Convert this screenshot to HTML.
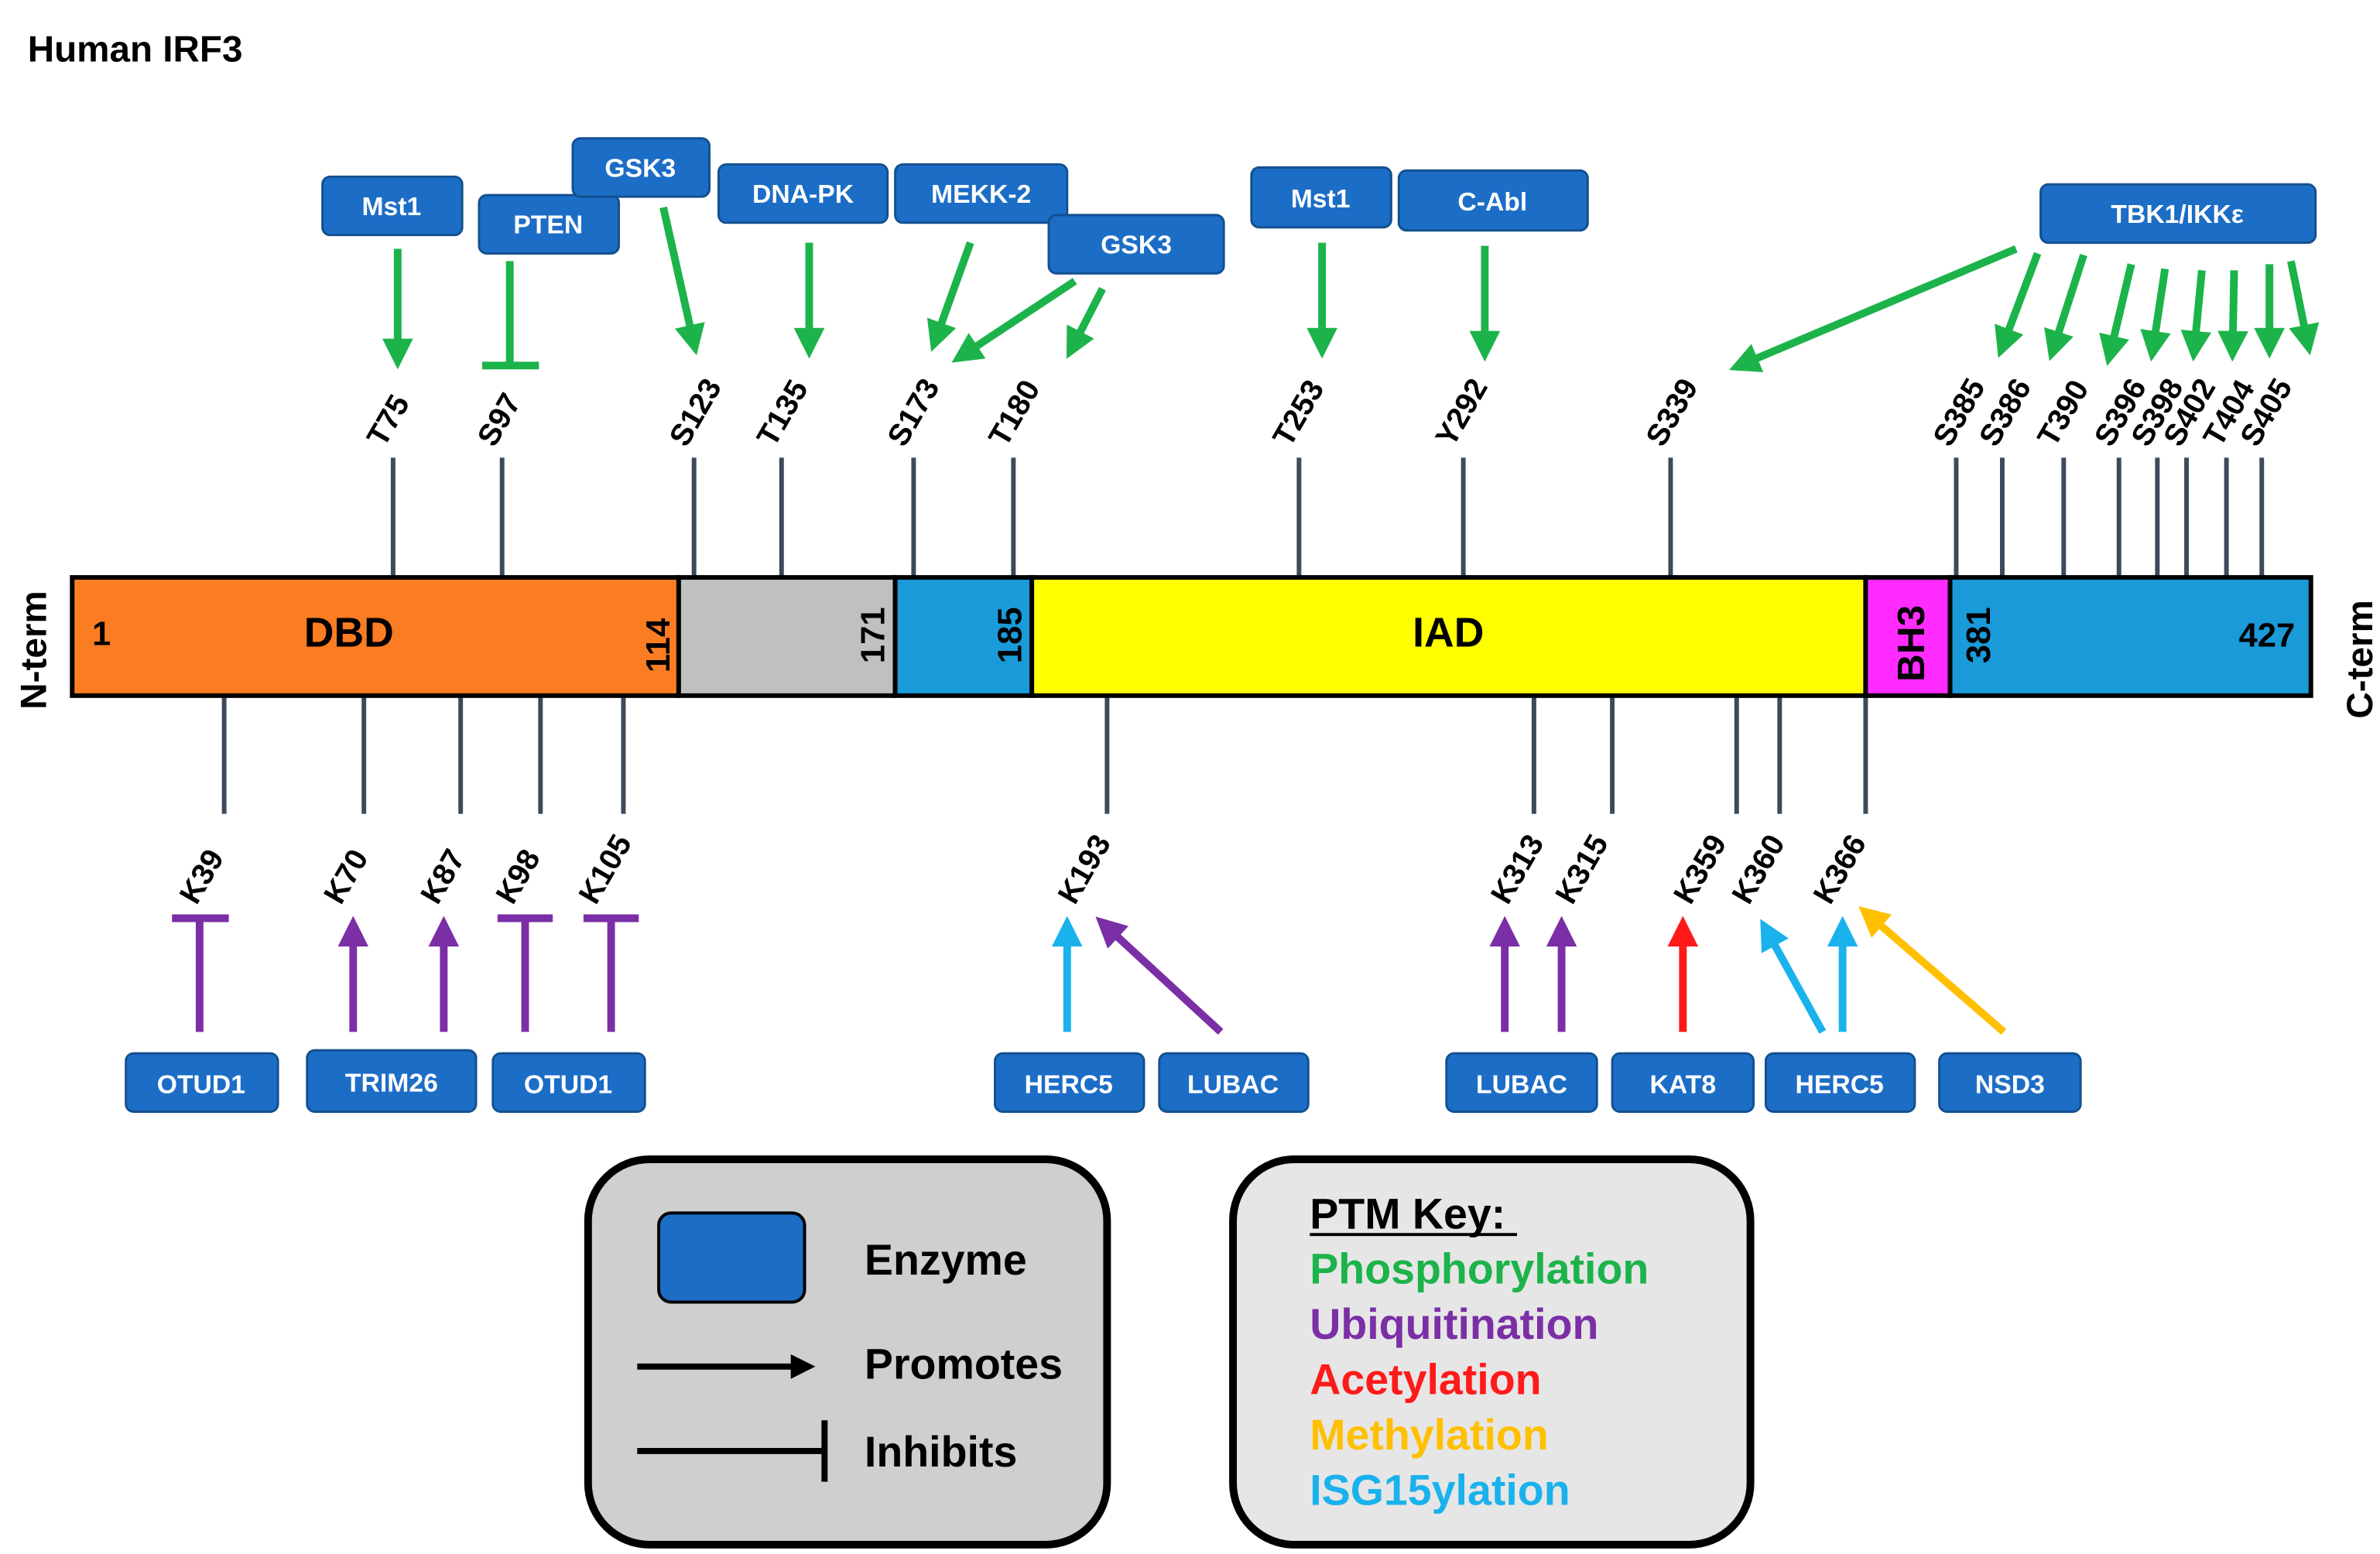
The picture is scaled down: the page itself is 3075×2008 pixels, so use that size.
<!DOCTYPE html>
<html><head><meta charset="utf-8"><style>html,body{margin:0;padding:0;background:#fff}svg{display:block}</style></head><body>
<svg width="3075" height="2008" viewBox="0 0 1550 1012" xmlns="http://www.w3.org/2000/svg" font-family="Liberation Sans, sans-serif" font-weight="bold">
<defs>
<marker id="g" markerWidth="4" markerHeight="4" refX="2.5" refY="2" orient="auto" markerUnits="strokeWidth"><path d="M0,0 L4,2 L0,4 z" fill="#1cb34a"/></marker>
<marker id="p" markerWidth="4" markerHeight="4" refX="2.5" refY="2" orient="auto" markerUnits="strokeWidth"><path d="M0,0 L4,2 L0,4 z" fill="#7b2fa6"/></marker>
<marker id="c" markerWidth="4" markerHeight="4" refX="2.5" refY="2" orient="auto" markerUnits="strokeWidth"><path d="M0,0 L4,2 L0,4 z" fill="#1ab2ec"/></marker>
<marker id="r" markerWidth="4" markerHeight="4" refX="2.5" refY="2" orient="auto" markerUnits="strokeWidth"><path d="M0,0 L4,2 L0,4 z" fill="#ff1a1a"/></marker>
<marker id="y" markerWidth="4" markerHeight="4" refX="2.5" refY="2" orient="auto" markerUnits="strokeWidth"><path d="M0,0 L4,2 L0,4 z" fill="#ffc000"/></marker>
<marker id="k" markerWidth="4" markerHeight="4" refX="2.5" refY="2" orient="auto" markerUnits="strokeWidth"><path d="M0,0 L4,2 L0,4 z" fill="#000"/></marker>
</defs>
<text x="18" y="40" font-size="24">Human IRF3</text>

<g stroke="#3c4a5c" stroke-width="3">
<path d="M256,298V376M327,298V376M452,298V376M509,298V376M595,298V376M660,298V376M846,298V376M953,298V376M1088,298V376M1274,298V376M1304,298V376M1344,298V376M1380,298V376M1405,298V376M1424,298V376M1450,298V376M1473,298V376"/>
<path d="M146,453V530M237,453V530M300,453V530M352,453V530M406,453V530M721,453V530M999,453V530M1050,453V530M1131,453V530M1159,453V530M1215,453V530"/>
</g>

<g stroke="#000" stroke-width="3">
<rect x="47" y="376" width="395" height="77" fill="#fb7d23"/>
<rect x="442" y="376" width="141" height="77" fill="#c0c0c0"/>
<rect x="583" y="376" width="89" height="77" fill="#1a9ad9"/>
<rect x="672" y="376" width="543" height="77" fill="#ffff00"/>
<rect x="1215" y="376" width="55" height="77" fill="#ff2bff"/>
<rect x="1270" y="376" width="235" height="77" fill="#1a9ad9"/>
</g>
<g font-size="22">
<text x="60" y="420">1</text>
<text x="198" y="421" font-size="27">DBD</text>
<text x="920" y="421" font-size="27">IAD</text>
<text x="1458" y="421">427</text>
<text transform="translate(436,438) rotate(-90)">114</text>
<text transform="translate(576,432) rotate(-90)">171</text>
<text transform="translate(665,432) rotate(-90)">185</text>
<text transform="translate(1253,444) rotate(-90)" font-size="25">BH3</text>
<text transform="translate(1296,432) rotate(-90)">381</text>
<text transform="translate(30,462) rotate(-90)" font-size="24">N-term</text>
<text transform="translate(1545,468) rotate(-90)" font-size="24">C-term</text>
</g>

<g font-size="20">
<text transform="translate(250,292) rotate(-60)">T75</text>
<text transform="translate(322,292) rotate(-60)">S97</text>
<text transform="translate(447,292) rotate(-60)">S123</text>
<text transform="translate(504,292) rotate(-60)">T135</text>
<text transform="translate(589,292) rotate(-60)">S173</text>
<text transform="translate(655,292) rotate(-60)">T180</text>
<text transform="translate(840,292) rotate(-60)">T253</text>
<text transform="translate(946,292) rotate(-60)">Y292</text>
<text transform="translate(1083,292) rotate(-60)">S339</text>
<text transform="translate(1270,292) rotate(-60)">S385</text>
<text transform="translate(1300,292) rotate(-60)">S386</text>
<text transform="translate(1338,292) rotate(-60)">T390</text>
<text transform="translate(1375,292) rotate(-60)">S396</text>
<text transform="translate(1399,292) rotate(-60)">S398</text>
<text transform="translate(1420,292) rotate(-60)">S402</text>
<text transform="translate(1446,292) rotate(-60)">T404</text>
<text transform="translate(1470,292) rotate(-60)">S405</text>
<text transform="translate(128,590) rotate(-60)">K39</text>
<text transform="translate(222,590) rotate(-60)">K70</text>
<text transform="translate(285,590) rotate(-60)">K87</text>
<text transform="translate(334,590) rotate(-60)">K98</text>
<text transform="translate(388,590) rotate(-60)">K105</text>
<text transform="translate(700,590) rotate(-60)">K193</text>
<text transform="translate(982,590) rotate(-60)">K313</text>
<text transform="translate(1024,590) rotate(-60)">K315</text>
<text transform="translate(1101,590) rotate(-60)">K359</text>
<text transform="translate(1139,590) rotate(-60)">K360</text>
<text transform="translate(1192,590) rotate(-60)">K366</text>
</g>

<g fill="#1c6dc6" stroke="#14508f" stroke-width="1.5">
<rect x="210" y="115" width="91" height="38" rx="5"/>
<rect x="312" y="127" width="91" height="38" rx="5"/>
<rect x="373" y="90" width="89" height="38" rx="5"/>
<rect x="468" y="107" width="110" height="38" rx="5"/>
<rect x="583" y="107" width="112" height="38" rx="5"/>
<rect x="683" y="140" width="114" height="38" rx="5"/>
<rect x="815" y="109" width="91" height="39" rx="5"/>
<rect x="911" y="111" width="123" height="39" rx="5"/>
<rect x="1329" y="120" width="179" height="38" rx="5"/>
<rect x="82" y="686" width="99" height="38" rx="5"/>
<rect x="200" y="684" width="110" height="40" rx="5"/>
<rect x="321" y="686" width="99" height="38" rx="5"/>
<rect x="648" y="686" width="97" height="38" rx="5"/>
<rect x="755" y="686" width="97" height="38" rx="5"/>
<rect x="942" y="686" width="98" height="38" rx="5"/>
<rect x="1050" y="686" width="92" height="38" rx="5"/>
<rect x="1150" y="686" width="97" height="38" rx="5"/>
<rect x="1263" y="686" width="92" height="38" rx="5"/>
</g>
<g fill="#fff" font-size="17" text-anchor="middle">
<text x="255" y="140">Mst1</text>
<text x="357" y="152">PTEN</text>
<text x="417" y="115">GSK3</text>
<text x="523" y="132">DNA-PK</text>
<text x="639" y="132">MEKK-2</text>
<text x="740" y="165">GSK3</text>
<text x="860" y="135">Mst1</text>
<text x="972" y="137">C-Abl</text>
<text x="1418" y="145">TBK1/IKKε</text>
<text x="131" y="712">OTUD1</text>
<text x="255" y="711">TRIM26</text>
<text x="370" y="712">OTUD1</text>
<text x="696" y="712">HERC5</text>
<text x="803" y="712">LUBAC</text>
<text x="991" y="712">LUBAC</text>
<text x="1096" y="712">KAT8</text>
<text x="1198" y="712">HERC5</text>
<text x="1309" y="712">NSD3</text>
</g>

<g stroke="#1cb34a" stroke-width="5" fill="none" marker-end="url(#g)">
<path d="M259,162V233"/><path d="M432,135L452,224"/><path d="M527,158V226"/>
<path d="M632,158L609,222"/><path d="M700,183L626,232"/><path d="M718,188L698,227"/>
<path d="M861,158V226"/><path d="M967,160V228"/>
<path d="M1313,162L1133,238"/><path d="M1327,165L1304,226"/><path d="M1357,166L1337,228"/>
<path d="M1388,172L1374,231"/><path d="M1410,175L1402,228"/><path d="M1434,176L1429,228"/>
<path d="M1455,176L1454,228"/><path d="M1478,172V226"/><path d="M1492,170L1503,224"/>
</g>
<g stroke="#1cb34a" stroke-width="5"><path d="M332,170V238M314,238H351"/></g>

<g stroke="#7b2fa6" stroke-width="5" fill="none">
<path d="M130,672V598M112,598H149M342,672V598M324,598H360M398,672V598M380,598H416"/>
</g>
<g stroke="#7b2fa6" stroke-width="5" fill="none" marker-end="url(#p)">
<path d="M230,672V604"/><path d="M289,672V604"/><path d="M795,672L719,602"/><path d="M980,672V604"/><path d="M1017,672V604"/>
</g>
<g stroke="#1ab2ec" stroke-width="5" fill="none" marker-end="url(#c)">
<path d="M695,672V604"/><path d="M1187,672L1150,605"/><path d="M1200,672V604"/>
</g>
<path d="M1096,672V604" stroke="#ff1a1a" stroke-width="5" marker-end="url(#r)"/>
<path d="M1305,672L1216,595" stroke="#ffc000" stroke-width="5" marker-end="url(#y)"/>

<rect x="383" y="755" width="338" height="251" rx="40" fill="#cfcfcf" stroke="#000" stroke-width="5"/>
<rect x="429" y="790" width="95" height="58" rx="8" fill="#1c6dc6" stroke="#000" stroke-width="2"/>
<g font-size="28"><text x="563" y="830">Enzyme</text><text x="563" y="898">Promotes</text><text x="563" y="955">Inhibits</text></g>
<path d="M415,890H525" stroke="#000" stroke-width="4" marker-end="url(#k)"/>
<path d="M415,945H537M537,925V965" stroke="#000" stroke-width="4"/>

<rect x="803" y="755" width="337" height="251" rx="40" fill="#e6e6e6" stroke="#000" stroke-width="5"/>
<g font-size="28">
<text x="853" y="800">PTM Key:</text>
<path d="M853,804H988" stroke="#000" stroke-width="2"/>
<text x="853" y="836" fill="#1cb34a">Phosphorylation</text>
<text x="853" y="872" fill="#7b2fa6">Ubiquitination</text>
<text x="853" y="908" fill="#ff1a1a">Acetylation</text>
<text x="853" y="944" fill="#ffc000">Methylation</text>
<text x="853" y="980" fill="#1ab2ec">ISG15ylation</text>
</g>
</svg>
</body></html>
